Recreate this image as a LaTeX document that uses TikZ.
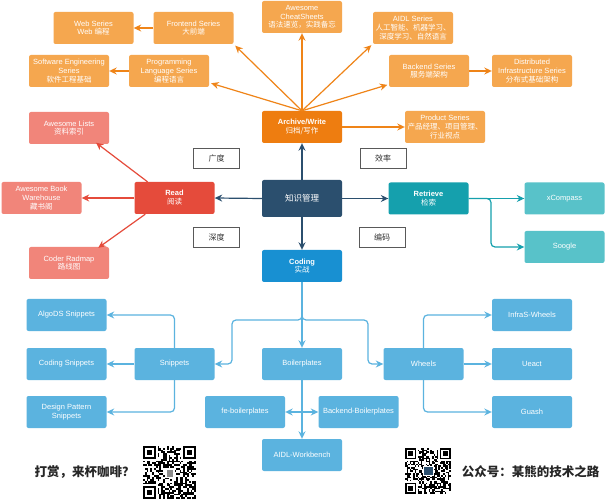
\documentclass[tikz,border=0pt]{standalone}
\usepackage{fontspec}
\setmainfont{Liberation Sans}
\newfontfamily\cjk{Noto Sans CJK SC}
\usetikzlibrary{arrows.meta}
\definecolor{orL}{HTML}{F5A74F}
\definecolor{orD}{HTML}{EE7D10}
\definecolor{orA}{HTML}{EF8418}
\definecolor{rdD}{HTML}{E54B3B}
\definecolor{rdL}{HTML}{F1857A}
\definecolor{navy}{HTML}{2B4F6E}
\definecolor{tlD}{HTML}{15A0AD}
\definecolor{tlL}{HTML}{58C2C9}
\definecolor{blD}{HTML}{1890D2}
\definecolor{blL}{HTML}{5BB3DF}
\newcommand{\myqr}[4]{%
 \begin{scope}[shift={(#1,#2)}]
 \pgfmathsetseed{#4}
 \pgfmathsetmacro{\cs}{#3/29}
 \foreach \i in {0,...,28}{\foreach \j in {0,...,28}{%
   \pgfmathrandominteger{\rr}{0}{1}%
   \ifnum\rr=1 \fill[black] (\i*\cs,\j*\cs) rectangle ++(\cs,\cs);\fi}}
 \foreach \ox/\oy in {0/0,22/0,0/22}{%
   \fill[white] ({(\ox-1)*\cs},{(\oy-1)*\cs}) rectangle ++(9*\cs,9*\cs);
   \fill[black] (\ox*\cs,\oy*\cs) rectangle ++(7*\cs,7*\cs);
   \fill[white] ({(\ox+1)*\cs},{(\oy+1)*\cs}) rectangle ++(5*\cs,5*\cs);
   \fill[black] ({(\ox+2)*\cs},{(\oy+2)*\cs}) rectangle ++(3*\cs,3*\cs);}
 \end{scope}}
\begin{document}
\begin{tikzpicture}[x=1pt,y=-1pt,
  box/.style={rectangle, rounded corners=2pt, minimum width=80pt, minimum height=32pt,
    text=white, font=\fontsize{7.5}{8.8}\selectfont, align=center, inner sep=1pt},
  orl/.style={box, fill=orL},
  rdl/.style={box, fill=rdL},
  tll/.style={box, fill=tlL},
  bll/.style={box, fill=blL},
  lbl/.style={rectangle, draw=black!65, line width=0.7pt, fill=white, minimum width=46pt,
    minimum height=20pt, font=\fontsize{8}{9}\selectfont\cjk, text=black!80},
  arr/.style={line width=1.2pt, -{Stealth[length=7.5pt,width=7pt,inset=2.5pt]}},
  oarr/.style={arr, draw=orA},
  rarr/.style={arr, draw=rdD},
  narr/.style={arr, draw=navy},
  tarr/.style={arr, draw=tlD, rounded corners=4pt},
  barr/.style={arr, draw=blL, rounded corners=4pt},
  big/.style={font=\fontsize{12.5}{14}\selectfont\cjk\bfseries, text=black!85}]
\useasboundingbox (0,0) rectangle (606,500);
\fill[white] (0,0) rectangle (606,500);

% orange group
\node[orl] (web) at (93.5,28) {Web Series\\Web {\cjk 编程}};
\node[orl] (front) at (193.5,28) {Frontend Series\\{\cjk 大前端}};
\node[orl] (soft) at (69,71) {Software Engineering\\Series\\{\cjk 软件工程基础}};
\node[orl] (prog) at (169,71) {Programming\\Language Series\\{\cjk 编程语言}};
\node[orl] (cheat) at (302,17) {Awesome\\CheatSheets\\{\cjk 语法速览，实践备忘}};
\node[orl] (aidl) at (413,28) {AIDL Series\\{\cjk 人工智能、机器学习、}\\{\cjk 深度学习、自然语言}};
\node[orl] (back) at (429,71) {Backend Series\\{\cjk 服务端架构}};
\node[orl] (dist) at (532,71) {Distributed\\Infrastructure Series\\{\cjk 分布式基础架构}};
\node[box, fill=orD, font=\fontsize{7.5}{8.8}\selectfont\bfseries] (arch) at (302,127) {Archive/Write\\{\cjk\mdseries 归档/写作}};
\node[orl] (prod) at (445,127) {Product Series\\{\cjk 产品经理、项目管理、}\\{\cjk 行业视点}};

% labels
\node[lbl] (l1) at (216.5,158) {广度};
\node[lbl] (l2) at (383,158) {效率};
\node[lbl] (l3) at (216.5,237) {深度};
\node[lbl] (l4) at (382,237) {编码};

% center
\node[box, fill=navy, minimum height=37pt, font=\fontsize{8.5}{10}\selectfont\cjk] (km) at (302,198.5) {知识管理};

% red group
\node[box, fill=rdD, font=\fontsize{7.5}{8.8}\selectfont\bfseries] (read) at (174.5,198) {Read\\{\cjk\mdseries 阅读}};
\node[rdl] (lists) at (69,128) {Awesome Lists\\{\cjk 资料索引}};
\node[rdl] (book) at (41.5,198) {Awesome Book\\Warehouse\\{\cjk 藏书阁}};
\node[rdl] (coder) at (69,263) {Coder Radmap\\{\cjk 路线图}};

% teal group
\node[box, fill=tlD, font=\fontsize{7.5}{8.8}\selectfont\bfseries] (retr) at (428.5,198.5) {Retrieve\\{\cjk\mdseries 检索}};
\node[tll] (xc) at (564.5,198.5) {xCompass};
\node[tll] (soog) at (564.5,247) {Soogle};

% blue group
\node[box, fill=blD, font=\fontsize{7.5}{8.8}\selectfont\bfseries] (coding) at (302,266) {Coding\\{\cjk\mdseries 实战}};
\node[bll] (algo) at (66.5,315) {AlgoDS Snippets};
\node[bll] (cods) at (66.5,364) {Coding Snippets};
\node[bll] (dp) at (66.5,412) {Design Pattern\\Snippets};
\node[bll] (snip) at (174.5,364) {Snippets};
\node[bll] (boil) at (302,364) {Boilerplates};
\node[bll] (febp) at (245,412) {fe-boilerplates};
\node[bll] (bebp) at (358.5,412) {Backend-Boilerplates};
\node[bll] (aidlw) at (302,455) {AIDL-Workbench};
\node[bll] (wheel) at (423.5,364) {Wheels};
\node[bll] (infra) at (532,315) {InfraS-Wheels};
\node[bll] (ueact) at (532,364) {Ueact};
\node[bll] (guash) at (532,412) {Guash};

% orange connectors
\draw[oarr] (arch.north) -- ([shift={(1.5,1.5)}]front.south east);
\draw[oarr] (arch.north) -- ([xshift=2pt]prog.-17);
\draw[oarr] (arch.north) -- (cheat.south);
\draw[oarr] (arch.north) -- ([shift={(-1.5,1)}]aidl.south west);
\draw[oarr] (arch.north) -- ([xshift=-1.5pt]back.199);
\draw[oarr] (arch.east) -- (prod.west);
\draw[oarr] (front.west) -- (web.east);
\draw[oarr] (prog.west) -- (soft.east);
\draw[oarr] (back.east) -- (dist.west);

% navy connectors
\draw[narr] (km.north) -- (arch.south);
\draw[narr] (km.west) -- (read.east);
\draw[narr] (km.east) -- (retr.west);
\draw[narr] (km.south) -- (coding.north);

% red connectors
\draw[rarr] (read.149) -- ([yshift=1.5pt]lists.-31);
\draw[rarr] (read.west) -- (book.east);
\draw[rarr] (read.209) -- ([yshift=-1pt]coder.29);

% teal connectors
\coordinate (tj) at (491,198.5);
\draw[tarr] (retr.east) -- (xc.west);
\draw[tarr] (retr.east) -- (tj) |- (soog.west);

% blue connectors
\coordinate (bl) at (232,320);
\coordinate (br) at (368,320);
\coordinate (bj) at (302,412);
\draw[barr] (coding.south) -- (boil.north);
\draw[barr] (coding.south) |- (bl) |- (snip.east);
\draw[barr] (coding.south) |- (br) |- (wheel.west);
\draw[barr] (snip.north) |- (algo.east);
\draw[barr] (snip.west) -- (cods.east);
\draw[barr] (snip.south) |- (dp.east);
\draw[barr] (wheel.north) |- (infra.west);
\draw[barr] (wheel.east) -- (ueact.west);
\draw[barr] (wheel.south) |- (guash.west);
\draw[barr] (boil.south) -- (aidlw.north);
\draw[barr] (bj) -- (febp.east);
\draw[barr] (bj) -- (bebp.west);

% footer
\node[big, anchor=west] (tip) at (31,472) {打赏，来杯咖啡？};
\node[big, anchor=east] (gzh) at (603,472) {公众号：某熊的技术之路};
\myqr{143}{446}{53}{7}
\myqr{405}{448}{46}{11}
\fill[white] (165,468) rectangle (175,478);
\fill[black!45] (167,469.5) rectangle (173,476.5);
\fill[white] (423,466) rectangle (434,476);
\fill[navy] (424,467) rectangle (433,475);
\end{tikzpicture}
\end{document}
